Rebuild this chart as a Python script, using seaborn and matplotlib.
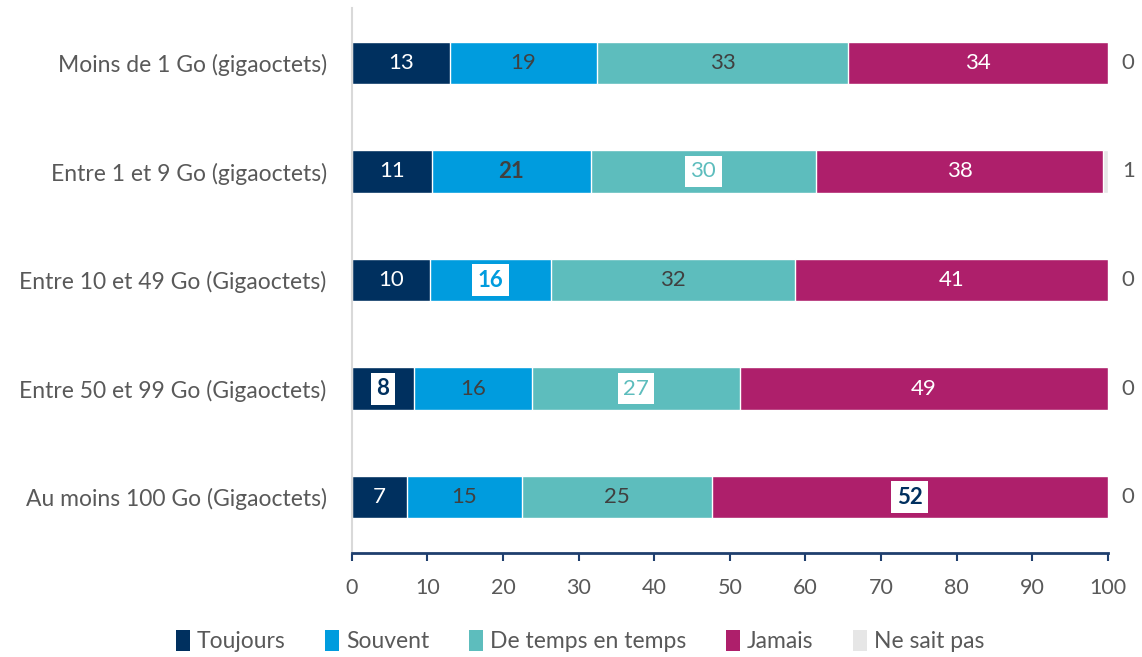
import pandas as pd
import numpy as np
import matplotlib.pyplot as plt
import seaborn as sns
from matplotlib.patches import Patch

# Data (percent)
categories = [
    "Moins de 1 Go (gigaoctets)",
    "Entre 1 et 9 Go (gigaoctets)",
    "Entre 10 et 49 Go (Gigaoctets)",
    "Entre 50 et 99 Go (Gigaoctets)",
    "Au moins 100 Go (Gigaoctets)",
]
series_names = ["Toujours", "Souvent", "De temps en temps", "Jamais", "Ne sait pas"]
toujours = [13.0, 10.6, 10.3, 8.2, 7.3]
souvent = [19.4, 21.0, 16.0, 15.7, 15.2]
de_temps = [33.3, 29.8, 32.3, 27.4, 25.1]
jamais = [34.3, 38.0, 41.4, 48.7, 52.4]
ne_sait_pas = [0.0, 0.6, 0.0, 0.0, 0.0]

colors = ["#00305F", "#009CDE", "#5DBDBD", "#AE1F6B", "#E6E6E6"]
label_colors = ["white", "#404040", "#404040", "white", "#595959"]

# cells drawn with a white box: (row, series) -> (text colour, bold)
boxed = {
    (1, 2): ("#5DBDBD", False),
    (2, 1): ("#009CDE", True),
    (3, 0): ("#00305F", True),
    (3, 2): ("#5DBDBD", False),
    (4, 3): ("#00305F", True),
}
bold_plain = {(1, 1)}

values = [toujours, souvent, de_temps, jamais, ne_sait_pas]
df = pd.DataFrame({n: v for n, v in zip(series_names, values)}, index=categories)
cum = df.cumsum(axis=1)

sns.set_theme(style="white")
plt.rcParams["font.family"] = ["Lato", "DejaVu Sans"]

fig = plt.figure(figsize=(11.42, 6.57), dpi=100)
ax = fig.add_axes([0.308, 0.158, 0.662, 0.830])

# stacked bars: draw cumulative totals from last series to first
for name, col in reversed(list(zip(series_names, colors))):
    sns.barplot(x=cum[name].values, y=categories, color=col, orient="h",
                width=0.39, saturation=1, ax=ax)

fs = 16
for i, cat in enumerate(categories):
    for j, name in enumerate(series_names):
        v = df.loc[cat, name]
        end = cum.loc[cat, name]
        txt = f"{v:.0f}"
        if j == 4:
            ax.text(102.7, i, txt, ha="center", va="center", fontsize=fs,
                    color="#595959", clip_on=False)
            continue
        xc = end - v / 2
        if (i, j) in boxed:
            c, b = boxed[(i, j)]
            ax.text(xc, i, txt, ha="center", va="center", fontsize=fs,
                    color=c, fontweight="bold" if b else "normal",
                    bbox=dict(boxstyle="square,pad=0.25", fc="white", ec="none"))
        else:
            ax.text(xc, i, txt, ha="center", va="center", fontsize=fs,
                    color=label_colors[j],
                    fontweight="bold" if (i, j) in bold_plain else "normal")

ax.set_xlim(0, 100)
ax.set_ylim(4.516, -0.507)
ax.set_xticks(np.arange(0, 101, 10))
ax.set_xlabel("")
ax.set_ylabel("")

for s in ["top", "right"]:
    ax.spines[s].set_visible(False)
ax.spines["left"].set_color("#D9D9D9")
ax.spines["left"].set_linewidth(1.5)
ax.spines["bottom"].set_color("#1F3F6E")
ax.spines["bottom"].set_linewidth(2)

ax.tick_params(axis="x", bottom=True, direction="out", length=6, width=1.5,
               color="#1F3F6E", labelsize=15.5, labelcolor="#595959", pad=12)
ax.tick_params(axis="y", left=False, labelsize=16.5, labelcolor="#595959", pad=12)

handles = [Patch(facecolor=c, edgecolor="none", label=n) for n, c in zip(series_names, colors)]
fig.legend(handles=handles, loc="center", bbox_to_anchor=(0.508, 0.024), ncol=5,
           frameon=False, fontsize=16.5, labelcolor="#595959", handlelength=0.6,
           handleheight=1.0, handletextpad=0.3, columnspacing=1.75)

plt.savefig("out.png", dpi=100, facecolor="white")
plt.close()
